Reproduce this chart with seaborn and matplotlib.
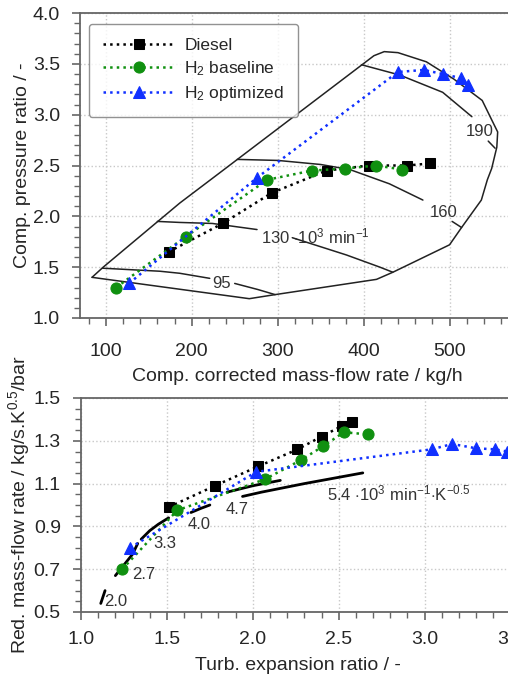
import seaborn as sns
import matplotlib.pyplot as plt

sns.set_theme(style='ticks')
plt.rcParams['font.family'] = ['Liberation Sans', 'DejaVu Sans']
plt.rcParams['mathtext.fontset'] = 'custom'
plt.rcParams['mathtext.rm'] = 'Liberation Sans'
plt.rcParams['mathtext.it'] = 'Liberation Sans:italic'

# compressor map, operating points
comp_diesel_x = [173, 236, 293, 357, 406, 451, 477]
comp_diesel_y = [1.65, 1.93, 2.23, 2.45, 2.50, 2.50, 2.52]
comp_base_x = [112, 193, 288, 340, 378, 415, 445]
comp_base_y = [1.30, 1.80, 2.36, 2.45, 2.47, 2.50, 2.46]
comp_opt_x = [127, 276, 440, 470, 492, 513, 522]
comp_opt_y = [1.34, 2.38, 3.42, 3.44, 3.40, 3.36, 3.29]

# compressor map, boundary and speed lines
surge_x = [84, 97, 186, 236, 398]
surge_y = [1.40, 1.50, 2.13, 2.45, 3.49]
border_x = [398, 412, 424, 440, 473, 505, 538, 549, 556, 555, 549, 544, 537, 514, 500, 434, 415, 297, 267, 84]
border_y = [3.49, 3.58, 3.62, 3.61, 3.52, 3.35, 3.14, 2.95, 2.83, 2.68, 2.47, 2.36, 2.16, 1.89, 1.72, 1.45, 1.38, 1.23, 1.19, 1.40]
speed_lines = {
    'n95a': ([96, 163, 186, 221], [1.49, 1.46, 1.44, 1.39]),
    'n95b': ([250, 277, 297], [1.34, 1.28, 1.23]),
    'n130a': ([160, 186, 224, 276], [1.95, 1.94, 1.93, 1.87]),
    'n130b': ([317, 380, 419, 434], [1.79, 1.62, 1.50, 1.45]),
    'n160a': ([253, 300, 350, 384, 430, 469], [2.56, 2.55, 2.51, 2.46, 2.32, 2.16]),
    'n160b': ([503, 514], [1.95, 1.89]),
    'n190a': ([398, 442, 492, 526], [3.49, 3.39, 3.22, 2.98]),
    'n190b': ([545, 553], [2.74, 2.67]),
}
comp_labels = [(224, 1.34, '95', 'left'),
               (281, 1.80, r'130 $\cdot$10$^3$ min$^{-1}$', 'left'),
               (477, 2.04, '160', 'left'),
               (535, 2.83, '190', 'center')]

# turbine map, operating points
turb_diesel_x = [1.51, 1.78, 2.03, 2.26, 2.40, 2.52, 2.58]
turb_diesel_y = [0.99, 1.09, 1.18, 1.26, 1.32, 1.37, 1.39]
turb_base_x = [1.24, 1.56, 2.07, 2.28, 2.41, 2.53, 2.67]
turb_base_y = [0.70, 0.975, 1.12, 1.21, 1.275, 1.34, 1.33]
turb_opt_x = [1.285, 2.02, 3.04, 3.16, 3.30, 3.41, 3.48]
turb_opt_y = [0.80, 1.155, 1.26, 1.285, 1.265, 1.26, 1.25]

# turbine map, speed lines
turb_speeds = {
    '2.0': ([1.115, 1.14], [0.54, 0.60]),
    '2.7': ([1.20, 1.25, 1.30, 1.33], [0.67, 0.72, 0.77, 0.82]),
    '3.3': ([1.35, 1.40, 1.45, 1.51], [0.84, 0.88, 0.91, 0.94]),
    '4.0': ([1.64, 1.70, 1.75], [0.965, 0.985, 1.0]),
    '4.7': ([1.85, 2.0, 2.16], [1.06, 1.09, 1.115]),
    '5.4': ([1.94, 2.05, 2.3, 2.64], [1.04, 1.06, 1.10, 1.15]),
}
turb_labels = [(1.135, 0.55, '2.0'), (1.30, 0.673, '2.7'), (1.42, 0.82, '3.3'),
               (1.62, 0.907, '4.0'), (1.84, 0.977, '4.7'),
               (2.43, 1.056, r'5.4 $\cdot$10$^3$ min$^{-1}$$\cdot$K$^{-0.5}$')]

series_style = [('Diesel', 'black', 's', 7.5),
                ('H$_2$ baseline', '#109010', 'o', 8),
                ('H$_2$ optimized', '#1030ff', '^', 9)]

fig = plt.figure(figsize=(5.08, 6.79), dpi=100)
ax1 = fig.add_axes([80 / 508, 361 / 679, 434 / 508, 305 / 679])
ax2 = fig.add_axes([81 / 508, 67 / 679, 433 / 508, 214 / 679])

for ax in (ax1, ax2):
    ax.grid(True, color='#c8c8c8', linestyle=':', linewidth=1)
    ax.set_axisbelow(True)
    for s in ax.spines.values():
        s.set_color('#666666')
        s.set_linewidth(1.3)
    ax.tick_params(labelsize=14, color='#666666', length=6, width=1.2)
    ax.tick_params(axis='y', pad=8.5)
    ax.tick_params(which='minor', length=4, width=1, color='#666666')
    ax.minorticks_on()
ax1.tick_params(axis='x', pad=12)
ax2.tick_params(axis='x', pad=8)

# top: compressor map
sns.lineplot(x=surge_x, y=surge_y, ax=ax1, color='#222222', lw=1.1, sort=False, estimator=None)
sns.lineplot(x=border_x, y=border_y, ax=ax1, color='#222222', lw=1.1, sort=False, estimator=None)
for k, (xs, ys) in speed_lines.items():
    sns.lineplot(x=xs, y=ys, ax=ax1, color='#222222', lw=1.1, sort=False, estimator=None)
for x, y, t, ha in comp_labels:
    ax1.text(x, y, t, fontsize=12, ha=ha, va='center', color='#333333')

for (lab, c, m, ms), xs, ys in zip(series_style,
                                   [comp_diesel_x, comp_base_x, comp_opt_x],
                                   [comp_diesel_y, comp_base_y, comp_opt_y]):
    sns.lineplot(x=xs, y=ys, ax=ax1, color=c, marker=m, markersize=ms, linestyle=':',
                 lw=1.8, markeredgecolor=c, sort=False, estimator=None, label=lab)

ax1.set_xlim(70, 575)
ax1.set_ylim(1.0, 4.0)
ax1.set_xticks([100, 200, 300, 400, 500])
ax1.set_yticks([1.0, 1.5, 2.0, 2.5, 3.0, 3.5, 4.0])
ax1.set_xlabel('Comp. corrected mass-flow rate / kg/h', fontsize=14, labelpad=6)
ax1.set_ylabel('Comp. pressure ratio / -', fontsize=14, labelpad=1)
leg = ax1.legend(loc='upper left', bbox_to_anchor=(0.0, 0.993), fontsize=12.5,
                 handlelength=4.2, handletextpad=0.5, frameon=True, fancybox=True,
                 borderpad=0.8, labelspacing=0.35)
leg.get_frame().set_edgecolor('#777777')
leg.get_frame().set_linewidth(1)

# bottom: turbine map
for k, (xs, ys) in turb_speeds.items():
    sns.lineplot(x=xs, y=ys, ax=ax2, color='black', lw=2, sort=False, estimator=None)
for x, y, t in turb_labels:
    ax2.text(x, y, t, fontsize=12, ha='left', va='center', color='#333333')

for (lab, c, m, ms), xs, ys in zip(series_style,
                                   [turb_diesel_x, turb_base_x, turb_opt_x],
                                   [turb_diesel_y, turb_base_y, turb_opt_y]):
    sns.lineplot(x=xs, y=ys, ax=ax2, color=c, marker=m, markersize=ms, linestyle=':',
                 lw=1.8, markeredgecolor=c, sort=False, estimator=None)

ax2.set_xlim(1.0, 3.52)
ax2.set_ylim(0.5, 1.5)
ax2.set_xticks([1.0, 1.5, 2.0, 2.5, 3.0, 3.5])
ax2.set_yticks([0.5, 0.7, 0.9, 1.1, 1.3, 1.5])
ax2.set_xlabel('Turb. expansion ratio / -', fontsize=14, labelpad=6)
ax2.set_ylabel('Red. mass-flow rate / kg/s.K$^{0.5}$/bar', fontsize=14, labelpad=1)

plt.savefig('out.png', dpi=100)
